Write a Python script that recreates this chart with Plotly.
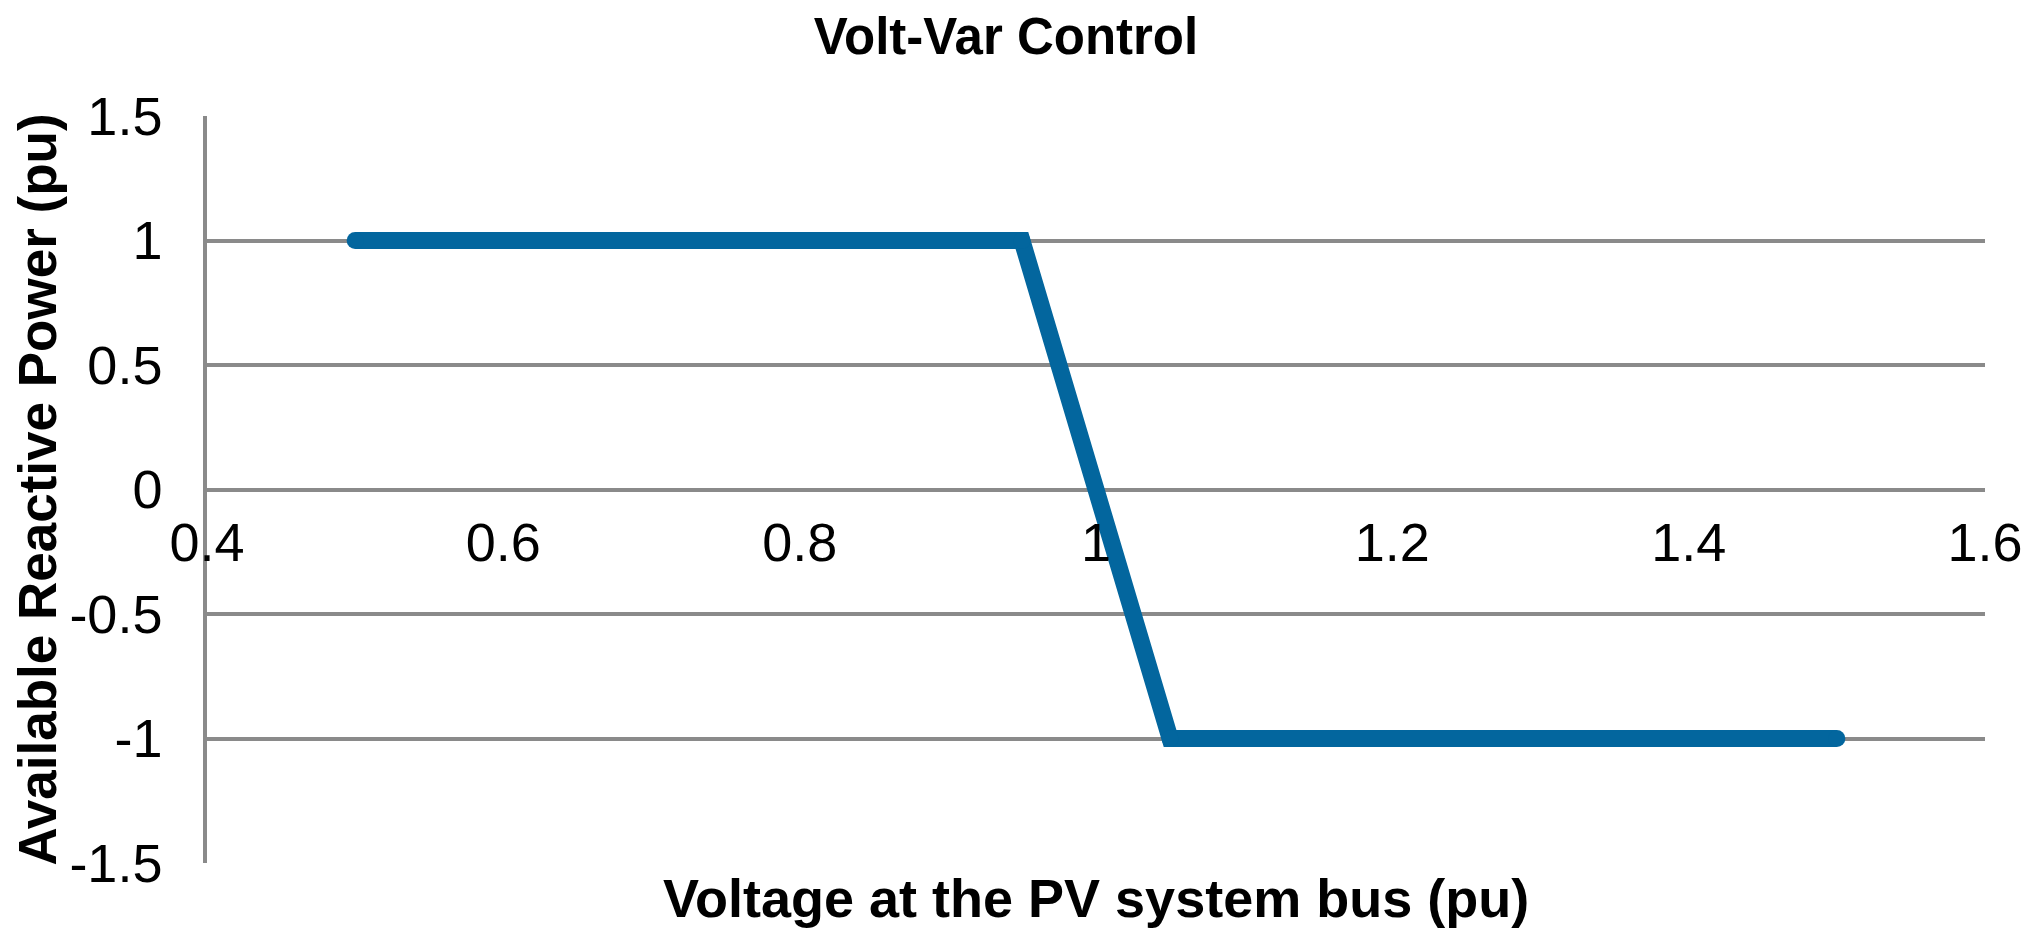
import plotly.graph_objects as go

voltage = [0.5, 0.95, 1.05, 1.5]
reactive_power = [1, 1, -1, -1]
x_ticks = [0.4, 0.6, 0.8, 1.0, 1.2, 1.4, 1.6]
x_tick_labels = ["0.4", "0.6", "0.8", "1", "1.2", "1.4", "1.6"]
y_ticks = [-1.5, -1, -0.5, 0, 0.5, 1, 1.5]
y_tick_labels = ["-1.5", "-1", "-0.5", "0", "0.5", "1", "1.5"]

OFF = 8  # default page body margin
W, H = 2036 - OFF, 929 - OFF
L, T = 207 - OFF, 116 - OFF
R = W - (1985 - OFF)
B = H - (863 - OFF)
pw, ph = W - L - R, H - T - B
FONT = "Liberation Sans, Arial, sans-serif"
GRID = "#8a8a8a"
LINE_COLOR = "#03669E"
LW = 17

fig = go.Figure()
fig.add_trace(go.Scatter(
    x=voltage, y=reactive_power, mode="lines+markers",
    line=dict(color=LINE_COLOR, width=LW),
    marker=dict(color=LINE_COLOR, size=LW, line=dict(width=0)),
    showlegend=False, hoverinfo="skip",
))

fig.update_layout(
    width=W, height=H,
    margin=dict(l=L, r=R, t=T, b=B, autoexpand=False),
    paper_bgcolor="white", plot_bgcolor="white",
    font=dict(family=FONT, color="black"),
    title=dict(
        text="<b>Volt-Var Control</b>",
        font=dict(family=FONT, size=51, color="black"),
        x=(1006 - OFF) / W, xanchor="center", xref="container",
        y=1 - (36 - OFF) / H, yanchor="middle", yref="container",
    ),
    xaxis=dict(
        range=[0.4, 1.6], tickvals=x_ticks, ticktext=x_tick_labels,
        showgrid=False, zeroline=False, showline=False,
        anchor="free", position=0.5, automargin=False,
        ticks="outside", ticklen=6, tickcolor="rgba(0,0,0,0)",
        tickfont=dict(family=FONT, size=54, color="black"),
    ),
    yaxis=dict(
        range=[-1.5, 1.5], tickvals=y_ticks, ticktext=y_tick_labels,
        showgrid=True, gridcolor=GRID, gridwidth=3.5,
        zeroline=False, showline=True, linecolor=GRID, linewidth=3.5,
        automargin=False,
        ticks="outside", ticklen=30, tickcolor="rgba(0,0,0,0)",
        tickfont=dict(family=FONT, size=54, color="black"),
    ),
    annotations=[
        dict(text="<b>Voltage at the PV system bus (pu)</b>",
             x=0.5, xref="paper", xanchor="center",
             y=-((898 - OFF) - (H - B)) / ph, yref="paper", yanchor="middle",
             showarrow=False, font=dict(family=FONT, size=54, color="black")),
        dict(text="<b>Available Reactive Power (pu)</b>",
             x=((37 - OFF) - L) / pw, xref="paper", xanchor="center",
             y=0.5, yref="paper", yanchor="middle",
             textangle=-90, showarrow=False,
             font=dict(family=FONT, size=53, color="black")),
    ],
)

fig.write_html("out.html")
